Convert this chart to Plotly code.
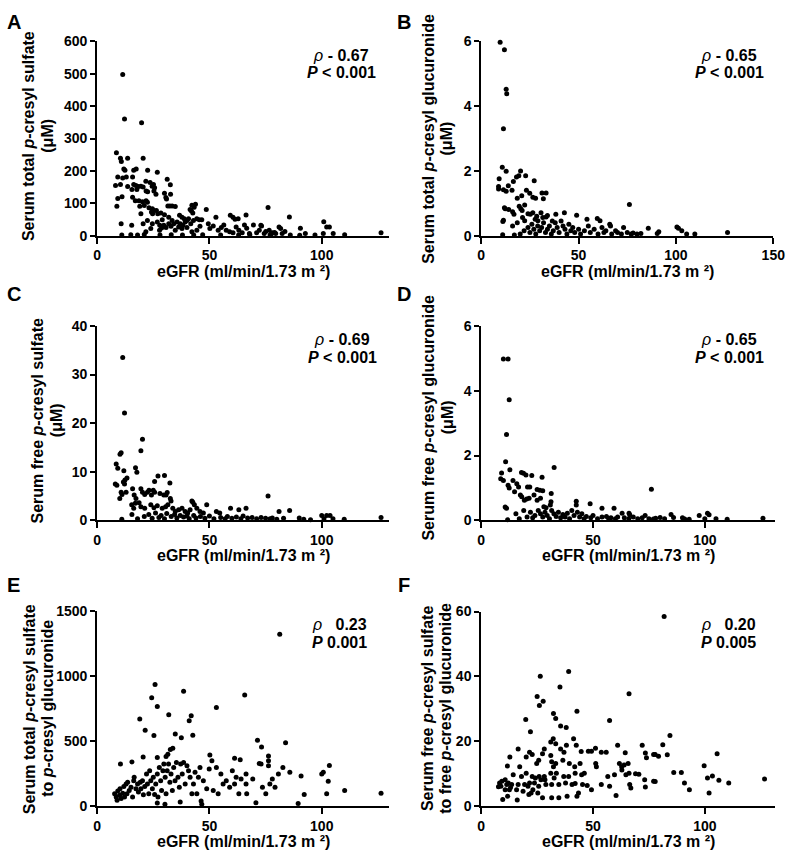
import plotly.graph_objects as go

FONT = "Liberation Sans, Arial, Helvetica, sans-serif"
W, H = 799, 862

# ---------------- data ----------------
a_egfr = [11.4,12.2,19.8,8.6,10.4,10.8,13.6,20.5,9.2,11.9,12.4,11.4,13.0,17.4,16.3,22.5,26.8,8.2,10.4,13.6,15.8,16.3,17.3,18.3,19.5,20.5,21.7,23.6,24.5,25.1,25.6,31.2,32.6,9.2,8.8,11.1,15.5,15.8,17.0,18.6,20.2,17.7,21.8,22.5,21.8,22.4,25.3,26.2,30.0,30.6,32.7,30.9,19.0,21.0,23.1,24.6,25.3,26.4,24.2,24.7,19.5,27.0,28.4,30.0,31.5,32.4,33.4,34.8,42.2,43.2,43.8,41.4,42.0,42.6,48.6,52.9,59.3,60.5,66.3,61.4,62.8,69.6,72.9,73.2,75.1,76.6,78.0,76.1,81.0,81.7,83.6,85.6,90.5,100.9,102.2,103.4,105.1,110.2,126.4,100.7,92.7,90.2,
          31.9,33.4,34.1,35.6,36.7,37.8,38.8,40.0,37.0,38.2,39.2,40.7,41.7,42.9,44.4,45.5,46.6,29.7,28.7,27.8,30.7,31.9,32.9,34.8,36.3,37.8,40.0,42.2,44.4,45.8,49.5,50.2,51.7,53.9,55.3,56.4,57.5,59.0,60.5,61.9,63.1,64.6,65.6,66.6,67.8,71.0,72.2,74.4,79.5,82.4,
          10.7,15.4,20.5,21.7,23.9,24.6,22.4,26.8,27.9,29.0,
          11,15,18,21,28,33,38,43,47,55,63,68,77,86,97,77.5,79]
a_total_pcs = [498,360,349,256,239,229,239,239,181,206,202,178,181,206,202,202,196,155,158,152,181,158,155,152,153,150,168,164,153,158,148,174,157,115,91,120,143,119,108,108,105,143,138,136,108,103,138,128,131,118,128,113,91,93,86,83,78,78,73,68,68,68,70,65,92,92,92,90,94,88,97,81,76,70,81,57,63,57,64,51,52,33,32,30,13,17,9,87,27,22,13,58,23,43,27,27,7,3,9,7,7,1,
               57,47,37,42,63,57,52,47,37,32,42,52,37,47,52,49,49,32,24,17,25,37,29,17,27,22,25,12,17,29,37,22,30,17,25,33,17,12,9,27,17,9,33,23,7,9,17,7,7,7,
               37,32,37,12,22,37,47,42,32,49,
               2,3,2,4,2,3,2,2,3,2,2,3,2,2,2,5,10]

b_egfr = [9.7,11.9,12.8,13.1,11.4,10.8,12.8,9.2,8.9,8.9,13.9,16.5,18.1,19.3,20.2,22.8,27.2,11.4,12.8,15.8,18.5,20.8,23.2,24.9,26.5,27.9,31.2,33.3,31.9,11.9,12.3,14.1,16.1,16.8,19.5,20.3,21.0,22.3,24.0,25.2,26.5,11.4,11.1,16.1,18.5,21.2,22.3,27.7,29.1,31.6,33.3,30.7,38.3,42.7,49.0,54.3,59.6,61.0,66.0,66.4,73.1,76.1,100.5,101.3,103.0,85.8,126.5,105.5,109.7,90.4,91.2,
          20,22,24,25,26,27,28,29,30,31,32,33,34,35,36,37,38,39,40,41,42,43,44,45,46,47,48,50,51,53,55,56,58,60,62,63,64,67,69,70,72,75,77,78,80,82,17,11,36.5,28.5,34]
b_total_pcg = [5.97,5.74,4.52,4.38,3.3,2.11,1.99,1.76,1.52,1.44,1.54,1.67,1.81,1.85,2.0,1.85,1.70,1.42,1.37,1.40,1.16,1.23,1.40,1.31,1.19,1.16,1.32,1.32,1.14,0.86,0.83,0.81,0.74,0.66,0.91,0.83,0.78,0.95,0.68,0.66,0.71,0.48,0.44,0.30,0.40,0.56,0.46,0.51,0.46,0.56,0.58,0.71,0.66,0.71,0.63,0.51,0.53,0.46,0.35,0.30,0.25,0.96,0.27,0.23,0.15,0.23,0.10,0.05,0.05,0.07,0.12,
               0.05,0.15,0.25,0.1,0.35,0.2,0.05,0.3,0.15,0.25,0.4,0.1,0.2,0.3,0.05,0.15,0.4,0.25,0.1,0.45,0.3,0.2,0.05,0.35,0.15,0.25,0.1,0.2,0.05,0.15,0.3,0.1,0.2,0.05,0.25,0.1,0.15,0.05,0.15,0.1,0.05,0.1,0.05,0.08,0.05,0.07,0.02,0.03,0.45,0.6,0.62]

c_egfr = [11.4,12.2,20.2,19.5,10.2,10.7,8.5,9.2,11.9,17.1,17.7,13.3,12.4,8.1,8.8,12.2,11.7,25.6,27.1,30.0,32.4,10.7,11.1,12.9,10.1,15.8,16.5,17.3,19.5,20.2,21.2,22.4,23.1,24.2,25.0,25.6,28.0,29.7,30.7,31.2,32.6,32.9,15.4,16.3,17.0,18.7,19.5,21.2,23.9,25.3,26.8,29.0,30.5,31.5,42.2,42.6,43.3,48.8,33.7,34.8,36.3,37.8,39.2,40.3,41.4,44.4,45.8,47.3,53.1,54.6,59.4,63.1,66.3,76.1,81.0,85.7,100.0,102.2,103.7,126.4,
          11,15.5,18,21,23,24.5,26,27.5,28.5,30,31,33,34.5,35.5,37,38.5,40,41,43,44,46,48,50,52,55,57,58,60,62,64,65,67,69,71,73,75,77,78,80,83,90,92,101,105,110,95]
c_free_pcs = [33.5,22.1,16.7,14.3,13.6,13.9,11.6,10.7,10.2,10.8,9.9,8.7,8.3,7.5,7.2,7.5,7.9,8.0,9.1,9.2,7.7,5.8,5.3,5.8,4.5,6.5,5.2,4.5,6.5,5.8,5.3,5.8,6.2,5.2,6.2,5.8,5.5,5.2,5.2,5.7,4.5,4.0,3.2,2.5,3.5,3.6,2.8,2.5,3.2,2.6,3.0,2.5,2.8,3.2,4.0,3.7,3.2,3.2,2.5,1.8,2.2,2.5,1.8,1.5,2.2,2.5,1.8,1.5,1.8,1.5,2.5,2.2,2.5,5.0,1.8,2.0,1.0,1.0,1.0,0.6,
              0.2,1.2,0.3,0.8,1.2,0.4,1.5,0.6,1.0,0.3,1.4,0.8,1.2,0.5,1.0,0.7,0.9,0.3,1.0,0.5,0.8,0.4,0.9,0.3,0.6,0.3,0.8,0.4,0.7,0.3,0.9,0.5,0.6,0.3,0.6,0.4,0.3,0.5,0.2,0.4,0.5,0.2,0.3,0.3,0.2,0.1]

d_egfr = [9.9,12.0,12.5,11.3,10.9,9.1,8.7,9.9,12.8,14.2,15.9,16.7,18.0,18.9,20.0,22.6,27.2,32.6,20.7,21.7,25.0,26.2,27.5,31.3,12.0,12.5,11.3,10.7,14.9,17.5,18.1,19.3,20.3,21.4,23.6,25.0,26.5,28.0,29.0,31.2,30.9,42.5,42.5,48.7,54.0,59.4,63.0,66.1,66.4,84.9,101.2,101.9,97.5,86.0,80.0,73.3,76.1,126.0,110.0,105.0,
          11.8,15.5,17,19,20.5,22,23,24,25.5,26.5,27.5,28.5,29.5,30.5,31.5,32.5,33.5,34.5,35.5,36.5,37.5,38.5,39.5,40.5,41.5,43,44,45,46,47,49,50,52,54,56,57,58,60,61,64,66,68,70,72,75,77,78,82,90,91,93,100]
d_free_pcg = [4.98,4.98,3.72,2.65,1.81,1.46,1.28,1.23,1.56,1.23,1.13,1.03,1.48,1.45,1.40,1.38,1.33,1.63,1.03,1.03,0.95,0.93,0.91,0.83,1.08,1.0,0.37,0.41,0.88,0.78,0.73,0.62,0.66,0.68,0.78,0.62,0.68,0.42,0.39,0.57,0.47,0.59,0.47,0.51,0.37,0.37,0.22,0.22,0.17,0.18,0.22,0.17,0.15,0.09,0.09,0.15,0.96,0.06,0.03,0.05,
              0.02,0.2,0.05,0.3,0.1,0.25,0.08,0.15,0.3,0.2,0.1,0.25,0.15,0.05,0.3,0.2,0.12,0.25,0.08,0.18,0.1,0.22,0.05,0.3,0.15,0.25,0.1,0.2,0.05,0.12,0.08,0.15,0.05,0.1,0.12,0.05,0.08,0.05,0.1,0.08,0.05,0.1,0.05,0.08,0.05,0.04,0.06,0.05,0.08,0.04,0.03,0.05]

e_egfr = [81.3,25.8,24.3,38.5,65.7,19.0,26.8,31.9,41.0,41.9,53.1,21.4,25.3,34.8,37.5,42.6,71.4,73.2,83.9,10.4,15.5,20.5,26.8,30.7,31.5,32.6,33.7,50.2,51.1,53.1,61.2,63.7,72.2,73.0,76.3,76.3,82.7,76.3,85.8,90.8,100.0,100.7,103.4,102.9,110.2,126.4,102.2,92.2,89.5,70.7,46.3,46.6,37.0,26.8,30.2,
          7.8,8.5,8.9,9.2,10.0,10.2,10.7,11.4,11.9,12.2,12.9,13.3,13.6,14.3,15.1,15.8,16.3,16.5,17.3,18.0,18.4,19.2,19.5,20.2,20.6,21.2,22.0,22.4,23.0,23.4,23.9,24.6,25.0,25.6,26.1,26.8,27.1,27.7,28.3,28.7,29.3,29.7,30.3,30.7,31.2,31.8,32.4,32.9,33.5,34.1,34.7,35.3,36.0,36.6,37.2,37.9,38.5,39.2,40.0,40.7,41.4,42.2,42.9,43.6,44.4,45.1,45.8,47.3,48.8,49.9,51.7,53.9,55.1,56.1,57.5,59.0,60.2,61.2,61.9,63.1,64.1,66.3,66.3,66.6,69.3,73.6,75.1,76.9,78.0,79.2,80.7]
e_total_ratio = [1318,932,831,881,851,667,763,700,654,692,755,581,540,553,523,543,505,452,485,321,338,376,371,379,396,434,442,391,346,295,366,354,326,321,384,346,295,308,258,230,245,258,311,189,119,98,93,88,18,25,38,13,30,23,13,
                 93,68,43,114,81,131,56,98,149,68,169,93,181,119,144,68,194,220,131,169,106,181,131,194,86,149,245,169,93,270,194,131,220,88,169,245,68,295,194,119,270,321,220,93,270,321,181,245,119,295,194,333,220,144,321,245,333,169,308,270,220,93,169,258,93,220,295,194,131,283,119,93,245,169,194,144,270,169,220,93,207,245,169,93,207,144,93,169,207,144,245]

f_egfr = [81.8,26.4,39.1,66.1,35.2,25.0,26.0,27.7,32.3,33.3,42.8,19.9,57.4,22.0,35.5,38.0,84.4,12.8,11.7,16.5,20.1,21.6,22.8,24.8,25.7,27.4,28.2,31.1,32.2,33.3,35.5,37.0,38.1,41.3,42.5,44.7,47.9,49.3,51.1,53.7,55.9,61.0,64.4,72.0,73.4,73.9,77.1,77.8,79.3,81.2,83.2,86.1,89.5,90.9,93.1,99.7,101.2,101.9,103.4,106.3,105.5,110.7,126.7,77.1,77.8,73.1,73.4,70.5,69.0,65.7,66.1,66.4,66.9,62.9,63.9,64.7,59.6,61.8,62.8,60.3,56.6,57.4,53.7,51.2,51.5,49.3,47.4,46.1,44.2,44.9,45.3,43.5,42.8,41.8,42.0,40.6,42.0,39.1,39.4,37.7,38.4,36.5,36.9,34.7,34.7,33.3,33.6,31.5,32.3,32.6,31.1,31.1,31.5,31.5,28.2,28.9,28.5,27.4,25.9,26.7,25.3,25.7,23.8,24.2,22.8,23.1,22.3,21.6,20.9,21.3,20.1,19.4,18.7,18.0,17.2,16.5,16.1,15.8,14.3,13.6,13.1,12.1,12.6,11.8,11.4,10.7,10.7,9.2,8.8,9.6,7.7,8.2]
f_free_ratio = [58.5,40.0,41.5,34.6,36.7,33.8,31.0,32.3,28.5,27.0,29.2,26.7,26.4,22.9,24.7,24.2,21.7,15.1,12.3,17.6,15.1,16.6,15.9,13.1,14.1,16.1,17.6,19.7,20.7,19.2,17.6,16.6,18.7,20.7,18.7,16.8,16.9,16.9,17.8,16.6,16.6,18.7,16.4,18.7,16.3,14.9,15.9,15.9,15.3,18.9,15.8,10.3,10.3,7.1,5.0,12.4,8.6,4.0,9.2,7.9,16.1,7.1,8.3,7.6,7.5,8.1,5.8,9.8,9.9,13.1,10.1,6.6,5.5,11.1,12.6,9.6,9.6,13.1,12.1,3.2,9.1,6.1,6.6,13.1,12.1,5.0,6.3,10.1,13.1,9.6,6.6,4.0,3.0,12.1,10.1,6.6,6.9,9.1,13.1,7.1,3.0,14.1,9.1,6.6,2.5,13.1,10.1,13.6,12.1,8.6,15.6,10.1,6.6,2.5,9.1,6.6,8.1,2.5,9.1,8.1,4.0,6.1,7.1,8.6,9.1,5.0,4.0,7.1,6.1,3.5,10.1,6.6,4.5,9.1,12.1,6.6,1.8,5.0,9.6,6.6,5.7,7.1,5.0,3.0,6.6,8.1,5.0,7.6,6.1,2.0,5.9,7.1]

panel_letters = ["A", "B", "C", "D", "E", "F"]
rho_texts = ["- 0.67", "- 0.65", "- 0.69", "- 0.65", "&nbsp;&nbsp;0.23", "&nbsp;&nbsp;0.20"]
p_texts = ["< 0.001", "< 0.001", "< 0.001", "< 0.001", "0.001", "0.005"]
y_title_l1 = ["Serum total <i>p</i>-cresyl sulfate", "Serum total <i>p</i>-cresyl glucuronide",
              "Serum free <i>p</i>-cresyl sulfate", "Serum free <i>p</i>-cresyl glucuronide",
              "Serum total <i>p</i>-cresyl sulfate", "Serum free <i>p</i>-cresyl sulfate"]
y_title_l2 = ["(μM)", "(μM)", "(μM)", "(μM)", "to <i>p</i>-cresyl glucuronide", "to free <i>p</i>-cresyl glucuronide"]
x_title = "eGFR (ml/min/1.73 m ²)"
y_ticks = [[0, 100, 200, 300, 400, 500, 600], [0, 2, 4, 6], [0, 10, 20, 30, 40],
           [0, 2, 4, 6], [0, 500, 1000, 1500], [0, 20, 40, 60]]
x_ticks = [[0, 50, 100], [0, 50, 100, 150], [0, 50, 100], [0, 50, 100], [0, 50, 100], [0, 50, 100]]

# ---------------- layout geometry (pixels) ----------------
xs = [a_egfr, b_egfr, c_egfr, d_egfr, e_egfr, f_egfr]
ys = [a_total_pcs, b_total_pcg, c_free_pcs, d_free_pcg, e_total_ratio, f_free_ratio]
geo = [
    dict(xd=(95, 393), yd=(34, 232), xr=[0, 130], yr=[0, 600], let=(10, 14), st=(344, 48), t1=25, t2=44, ty=130),
    dict(xd=(487, 785), yd=(34, 232), xr=[0, 150], yr=[0, 6], let=(408, 14), st=(740, 48), t1=433, t2=452, ty=133),
    dict(xd=(95, 393), yd=(324, 522), xr=[0, 130], yr=[0, 40], let=(10, 291), st=(345, 338), t1=34, t2=53, ty=420),
    dict(xd=(487, 787), yd=(324, 522), xr=[0, 131.5], yr=[0, 6], let=(408, 291), st=(740, 338), t1=433, t2=452, ty=417),
    dict(xd=(95, 393), yd=(614, 813), xr=[0, 130], yr=[0, 1500], let=(10, 588), st=(342, 628), t1=26, t2=45, ty=714),
    dict(xd=(487, 787), yd=(615, 813), xr=[0, 131.5], yr=[0, 60], let=(408, 588), st=(739, 628), t1=432, t2=451, ty=713),
]

def px(xp):
    return xp / W

def py(yp):
    return 1 - yp / H

fig = go.Figure()
layout = dict(
    width=W, height=H, margin=dict(l=0, r=0, t=0, b=0),
    paper_bgcolor="white", plot_bgcolor="white", showlegend=False,
    font=dict(family=FONT, color="black"),
)
annotations = []
tickfont = dict(family=FONT, size=14, color="black", weight="bold")

for i in range(6):
    g = geo[i]
    sfx = "" if i == 0 else str(i + 1)
    fig.add_trace(go.Scatter(
        x=xs[i], y=ys[i], mode="markers",
        marker=dict(size=5, color="black", line=dict(width=0)),
        xaxis="x" + sfx, yaxis="y" + sfx, cliponaxis=False, hoverinfo="x+y",
    ))
    layout["xaxis" + sfx] = dict(
        domain=[px(g["xd"][0]), px(g["xd"][1])], range=g["xr"], anchor="y" + sfx,
        tickvals=x_ticks[i], showline=True, linecolor="black", linewidth=2,
        ticks="outside", ticklen=6, tickwidth=2, tickcolor="black",
        showgrid=False, zeroline=False, tickfont=tickfont, fixedrange=True,
    )
    layout["yaxis" + sfx] = dict(
        domain=[py(g["yd"][1]), py(g["yd"][0])], range=g["yr"], anchor="x" + sfx,
        tickvals=y_ticks[i], showline=True, linecolor="black", linewidth=2,
        ticks="outside", ticklen=5, tickwidth=2, tickcolor="black",
        showgrid=False, zeroline=False, tickfont=tickfont, fixedrange=True,
    )
    # panel letter
    annotations.append(dict(text="<b>%s</b>" % panel_letters[i], x=px(g["let"][0]), y=py(g["let"][1]),
                            xref="paper", yref="paper", showarrow=False, xanchor="center", yanchor="middle",
                            font=dict(family=FONT, size=20, color="black")))
    # stats
    sx, sy = g["st"]
    annotations.append(dict(text="<i>ρ</i> <b>%s</b>" % rho_texts[i], x=px(sx), y=py(sy),
                            xref="paper", yref="paper", showarrow=False, xanchor="center", yanchor="middle",
                            font=dict(family=FONT, size=16, color="black")))
    annotations.append(dict(text="<b><i>P</i> %s</b>" % p_texts[i], x=px(sx), y=py(sy + 18),
                            xref="paper", yref="paper", showarrow=False, xanchor="center", yanchor="middle",
                            font=dict(family=FONT, size=16, color="black")))
    # y titles
    annotations.append(dict(text="<b>%s</b>" % y_title_l1[i], x=px(g["t1"]), y=py(g["ty"]), textangle=-90,
                            xref="paper", yref="paper", showarrow=False, xanchor="center", yanchor="middle",
                            font=dict(family=FONT, size=16, color="black")))
    annotations.append(dict(text="<b>%s</b>" % y_title_l2[i], x=px(g["t2"]), y=py(g["ty"]), textangle=-90,
                            xref="paper", yref="paper", showarrow=False, xanchor="center", yanchor="middle",
                            font=dict(family=FONT, size=16, color="black")))
    # x title
    annotations.append(dict(text="<b>%s</b>" % x_title, x=px((g["xd"][0] + g["xd"][1]) / 2),
                            y=py(g["yd"][1] + 36), xref="paper", yref="paper", showarrow=False,
                            xanchor="center", yanchor="middle", font=dict(family=FONT, size=16, color="black")))

layout["annotations"] = annotations
fig.update_layout(**layout)
fig.write_html("out.html", config={"displayModeBar": False},
               post_script="document.body.style.margin='0px';")
